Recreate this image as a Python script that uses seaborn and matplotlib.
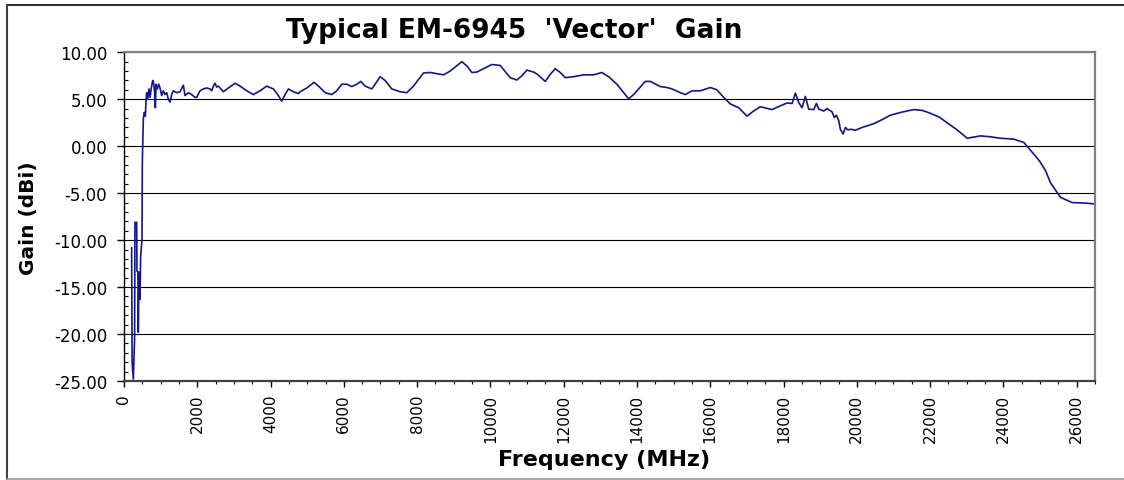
import numpy as np
import pandas as pd
import matplotlib
matplotlib.use("Agg")
import matplotlib.pyplot as plt
from matplotlib.lines import Line2D
from matplotlib.ticker import MultipleLocator, FormatStrFormatter
import seaborn as sns

# ---------------------------------------------------------------------------
# Data (MHz, dBi)
# ---------------------------------------------------------------------------
freq_low = [209, 222, 255, 290, 300, 346, 355, 380, 391, 410, 437, 455, 492, 501,
            528, 555, 583, 601, 619, 646, 683, 710, 746, 783, 801, 819, 837, 856,
            874, 910, 947, 983, 1029, 1074, 1120, 1165, 1211, 1256, 1302, 1347,
            1438, 1529, 1620, 1666, 1757, 1848, 1939, 1984]
gain_low = [-10.8, -23.0, -24.8, -20.5, -8.1, -8.1, -13.3, -13.4, -19.8, -13.4,
            -16.3, -11.7, -9.9, -1.7, 2.9, 3.6, 3.2, 4.8, 5.7, 5.0, 6.1, 5.2, 6.2,
            7.0, 6.9, 6.4, 5.7, 4.1, 6.6, 6.1, 6.6, 6.2, 5.4, 5.9, 5.5, 5.7, 5.0,
            4.7, 5.5, 5.9, 5.7, 5.8, 6.5, 5.4, 5.7, 5.5, 5.2, 5.2]

freq_mid = [2075, 2166, 2257, 2348, 2394, 2439, 2485, 2530, 2576, 2713, 2849,
            3031, 3168, 3350, 3532, 3714, 3896, 4078, 4214, 4305, 4396, 4487,
            4624, 4760, 4806, 4988, 5188, 5307, 5489, 5671, 5807, 5944, 6080,
            6217, 6354, 6463, 6581, 6763, 6854, 6991, 7127, 7309, 7537, 7719,
            7901, 8174, 8356, 8720, 8902, 9221, 9357, 9494, 9631, 10040, 10267,
            10541, 10723, 10859, 10996, 11178, 11287, 11496, 11633, 11769, 11906,
            12043, 12270, 12543, 12816, 13044, 13226, 13453, 13636, 13772, 13909,
            14227, 14364, 14637, 14819, 14955, 15183, 15319, 15501, 15729]
gain_mid = [5.9, 6.1, 6.2, 6.1, 5.9, 6.4, 6.7, 6.3, 6.4, 5.8, 6.2, 6.7, 6.4, 5.9,
            5.5, 5.9, 6.4, 6.1, 5.4, 4.8, 5.5, 6.1, 5.8, 5.6, 5.8, 6.2, 6.8, 6.4,
            5.7, 5.5, 5.9, 6.6, 6.6, 6.35, 6.6, 6.9, 6.4, 6.1, 6.6, 7.4, 7.0, 6.1,
            5.8, 5.7, 6.4, 7.8, 7.85, 7.6, 8.0, 9.0, 8.55, 7.85, 7.9, 8.7, 8.6,
            7.3, 7.05, 7.5, 8.1, 7.9, 7.65, 6.9, 7.65, 8.25, 7.85, 7.3, 7.4, 7.6,
            7.6, 7.85, 7.4, 6.6, 5.7, 5.05, 5.5, 6.9, 6.9, 6.35, 6.25, 6.1, 5.7,
            5.5, 5.9, 5.9]

freq_high = [16002, 16184, 16366, 16548, 16776, 17003, 17185, 17368, 17686, 17914,
             18096, 18232, 18323, 18414, 18505, 18596, 18687, 18824, 18897, 18960,
             19097, 19188, 19325, 19388, 19443, 19507, 19552, 19625, 19689, 19752,
             19843, 19962, 20144, 20462, 20700, 20917, 21250, 21555, 21800, 22010,
             22250, 22465, 22750, 23011, 23376, 23650, 23921, 24285, 24558, 24831,
             24990, 25150, 25287, 25560, 25879, 26197, 26516]
gain_high = [6.25, 6.0, 5.2, 4.5, 4.1, 3.2, 3.75, 4.2, 3.9, 4.3, 4.6, 4.55, 5.65,
             4.65, 4.1, 5.3, 3.95, 3.9, 4.55, 3.95, 3.75, 4.0, 3.65, 3.05, 3.3,
             2.7, 1.8, 1.3, 2.0, 1.75, 1.8, 1.7, 2.0, 2.4, 2.85, 3.3, 3.65, 3.9,
             3.8, 3.5, 3.1, 2.5, 1.7, 0.85, 1.1, 1.0, 0.85, 0.75, 0.4, -0.85, -1.6,
             -2.6, -3.9, -5.45, -6.0, -6.05, -6.15]

df = pd.DataFrame({
    "freq": freq_low + freq_mid + freq_high,
    "gain": gain_low + gain_mid + gain_high,
})

# ---------------------------------------------------------------------------
# Plot
# ---------------------------------------------------------------------------
sns.set_style("white")
plt.rcParams["font.family"] = ["DejaVu Sans"]
plt.rcParams["text.color"] = "black"
plt.rcParams["xtick.color"] = "black"
plt.rcParams["ytick.color"] = "black"
plt.rcParams["xtick.labelcolor"] = "black"
plt.rcParams["ytick.labelcolor"] = "black"

fig = plt.figure(figsize=(11.24, 4.81), dpi=100)
ax = fig.add_axes([0.1103, 0.2058, 0.9742 - 0.1103, 0.8892 - 0.2058])

sns.lineplot(data=df, x="freq", y="gain", sort=False, estimator=None,
             color="#14148c", linewidth=1.2, ax=ax)

ax.set_xlim(0, 26500)
ax.set_ylim(-25, 10)
ax.xaxis.set_major_locator(MultipleLocator(2000))
ax.xaxis.set_minor_locator(MultipleLocator(500))
ax.yaxis.set_major_locator(MultipleLocator(5))
ax.yaxis.set_minor_locator(MultipleLocator(1))
ax.yaxis.set_major_formatter(FormatStrFormatter("%.2f"))

ax.set_axisbelow(True)
ax.yaxis.grid(True, color="black", linewidth=0.8)
ax.xaxis.grid(False)

ax.tick_params(axis="y", which="major", direction="out", length=5, width=1,
               pad=7, labelsize=12, colors="black", left=True)
ax.tick_params(axis="y", which="minor", direction="in", length=3, width=0.8,
               colors="black", left=True)
ax.tick_params(axis="x", which="major", direction="out", length=4, width=1,
               pad=5, labelsize=11, labelrotation=90, colors="black", bottom=True)
ax.tick_params(axis="x", which="minor", direction="out", length=2.5, width=0.8,
               colors="black", bottom=True)

ax.spines["left"].set_color("black")
ax.spines["left"].set_linewidth(1.0)
ax.spines["bottom"].set_color("#404040")
ax.spines["bottom"].set_linewidth(1.6)
for side in ("top", "right"):
    ax.spines[side].set_color("#808080")
    ax.spines[side].set_linewidth(1.6)

ax.set_xlabel("")
ax.set_ylabel("")
fig.text(0.4577, 0.9355, "Typical EM-6945  'Vector'  Gain", ha="center",
         va="center", fontsize=19, fontweight="bold", color="black")
fig.text(0.537, 0.0437, "Frequency (MHz)", ha="center", va="center",
         fontsize=16, fontweight="bold", color="black")
fig.text(0.0258, 0.547, "Gain (dBi)", ha="center", va="center", rotation=90,
         fontsize=14.5, fontweight="bold", color="black")

# outer chart border (left, top, bottom)
fig.add_artist(Line2D([0.0062, 1.0], [0.9885, 0.9885], color="#303030", lw=1.5))
fig.add_artist(Line2D([0.0062, 0.0062], [0.0015, 0.9885], color="#404040", lw=1.5))
fig.add_artist(Line2D([0.0062, 1.0], [0.0015, 0.0015], color="#999999", lw=1.2))

plt.savefig("out.png", dpi=100)
plt.close()
